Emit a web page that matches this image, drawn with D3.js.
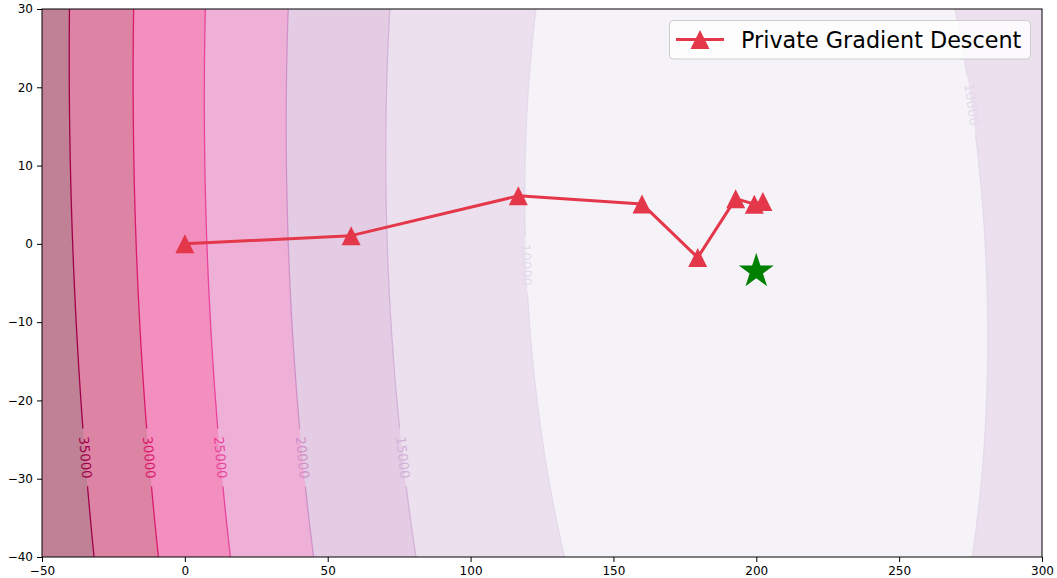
<!DOCTYPE html>
<html>
<head>
<meta charset="utf-8">
<script src="https://cdn.jsdelivr.net/npm/d3@7"></script>
<style>
  html, body { margin: 0; padding: 0; background: #ffffff; }
  svg { display: block; font-family: "DejaVu Sans", sans-serif; }
</style>
</head>
<body>
<svg id="chart" width="1057" height="578"></svg>
<script>
// Quadratic loss surface: f(x, y) = a*dx^2 + b*dx*dy + c*dy^2 + floor
const lossCenter = [200, -3];
const lossCoef = [0.494, 0.113, 0.5096];
const lossFloor = 6796;

// Filled contour levels and band colours (lowest band first)
const levels = [10000, 15000, 20000, 25000, 30000, 35000];
const bandColors = ["#f5f3f8", "#ece0ef", "#e4cce4", "#efb0d8", "#f28fbe", "#dd84a5", "#c08096"];
const lineColors = ["#e3daeb", "#d3b3d8", "#cf92c8", "#e8449c", "#d81b6a", "#a0004a"];

// Inline contour labels: level, y position, which branch of the curve
const labelLevels = [35000, 30000, 25000, 20000, 15000, 10000, 10000];
const labelY      = [-27.3, -27.3, -27.3, -27.3, -27.3, -2.7, 17.8];
const labelSide   = [-1, -1, -1, -1, -1, -1, 1];

// Optimisation path
const pathX = [0, 58.2, 116.7, 160.0, 179.5, 192.8, 199.3, 202.3];
const pathY = [0, 1.05, 6.13, 5.1, -1.75, 5.77, 5.07, 5.4];
const optimum = [200, -3.5];

const xTicks = [-50, 0, 50, 100, 150, 200, 250, 300];
const yTicks = [-40, -30, -20, -10, 0, 10, 20, 30];
const legendLabel = "Private Gradient Descent";

const W = 1057, H = 578;
const plot = { left: 42, top: 9, right: 1042, bottom: 557 };
const xDomain = [-50, 300], yDomain = [-40, 30];

const x = d3.scaleLinear().domain(xDomain).range([plot.left, plot.right]);
const y = d3.scaleLinear().domain(yDomain).range([plot.bottom, plot.top]);

function loss(px, py) {
  const dx = px - lossCenter[0], dy = py - lossCenter[1];
  return lossCoef[0] * dx * dx + lossCoef[1] * dx * dy + lossCoef[2] * dy * dy + lossFloor;
}

const svg = d3.select("#chart");
const defs = svg.append("defs");
defs.append("clipPath").attr("id", "plotClip")
  .append("rect")
  .attr("x", plot.left).attr("y", plot.top)
  .attr("width", plot.right - plot.left).attr("height", plot.bottom - plot.top);

// Sample the surface on a grid slightly larger than the visible area
const gx0 = -56, gx1 = 306, gy0 = -46, gy1 = 36;
const nx = 362, ny = 164;
const sx = (gx1 - gx0) / nx, sy = (gy1 - gy0) / ny;
const grid = new Float64Array(nx * ny);
for (let j = 0; j < ny; j++) {
  const yy = gy1 - (j + 0.5) * sy;
  for (let i = 0; i < nx; i++) {
    grid[j * nx + i] = loss(gx0 + (i + 0.5) * sx, yy);
  }
}
const contourGen = d3.contours().size([nx, ny]).thresholds(levels);
const bands = contourGen(grid);
const proj = d3.geoTransform({
  point: function (gxp, gyp) {
    this.stream.point(x(gx0 + gxp * sx), y(gy1 - gyp * sy));
  }
});
const geoPath = d3.geoPath(proj);

const plotG = svg.append("g").attr("clip-path", "url(#plotClip)");
plotG.append("rect")
  .attr("x", plot.left).attr("y", plot.top)
  .attr("width", plot.right - plot.left).attr("height", plot.bottom - plot.top)
  .attr("fill", bandColors[0]);
plotG.append("g").selectAll("path").data(bands).join("path")
  .attr("d", geoPath)
  .attr("fill", (d, i) => bandColors[i + 1]);

// Label placement: x on the contour at the given y, and the local tangent angle
const labels = labelLevels.map((lv, k) => {
  const yy = labelY[k];
  const dy = yy - lossCenter[1];
  const a = lossCoef[0], b = lossCoef[1] * dy, c = lossCoef[2] * dy * dy + lossFloor - lv;
  const disc = Math.sqrt(b * b - 4 * a * c);
  const dx = labelSide[k] < 0 ? (-b - disc) / (2 * a) : (-b + disc) / (2 * a);
  const xx = lossCenter[0] + dx;
  const fx = 2 * lossCoef[0] * dx + lossCoef[1] * dy;
  const fy = lossCoef[1] * dx + 2 * lossCoef[2] * dy;
  let tx = -fy * (x(1) - x(0)), ty = -fx * (y(0) - y(1));
  if (ty < 0) { tx = -tx; ty = -ty; }
  const ang = Math.atan2(ty, tx) * 180 / Math.PI;
  return { level: lv, px: x(xx), py: y(yy), ang, color: lineColors[levels.indexOf(lv)] };
});

const labelFont = 13.3;
const mask = defs.append("mask").attr("id", "labelMask")
  .attr("maskUnits", "userSpaceOnUse")
  .attr("x", 0).attr("y", 0).attr("width", W).attr("height", H);
mask.append("rect").attr("x", 0).attr("y", 0).attr("width", W).attr("height", H).attr("fill", "white");
mask.selectAll("rect.hole").data(labels).join("rect")
  .attr("class", "hole")
  .attr("x", -29).attr("y", -8).attr("width", 58).attr("height", 16)
  .attr("fill", "black")
  .attr("transform", d => `translate(${d.px},${d.py}) rotate(${d.ang})`);

plotG.append("g").attr("mask", "url(#labelMask)")
  .selectAll("path").data(bands).join("path")
  .attr("d", geoPath)
  .attr("fill", "none")
  .attr("stroke", (d, i) => lineColors[i])
  .attr("stroke-width", 1.3);

plotG.append("g").selectAll("text").data(labels).join("text")
  .attr("transform", d => `translate(${d.px},${d.py}) rotate(${d.ang})`)
  .attr("text-anchor", "middle")
  .attr("dominant-baseline", "central")
  .attr("font-size", labelFont)
  .attr("fill", d => d.color)
  .text(d => d.level);

// Optimisation path with triangle markers
const pts = pathX.map((v, i) => [v, pathY[i]]);
const tri = s => `M0,${-s / 2}L${s / 2},${s / 2}L${-s / 2},${s / 2}Z`;
const redC = "#e4374a";
plotG.append("path")
  .attr("d", d3.line().x(d => x(d[0])).y(d => y(d[1]))(pts))
  .attr("fill", "none").attr("stroke", redC).attr("stroke-width", 3)
  .attr("stroke-linejoin", "round");
plotG.append("g").selectAll("path").data(pts).join("path")
  .attr("d", tri(19))
  .attr("transform", d => `translate(${x(d[0])},${y(d[1])})`)
  .attr("fill", redC);

// Optimum star
function starPath(R) {
  const r = R * 0.381966;
  const p = [];
  for (let k = 0; k < 10; k++) {
    const rad = k % 2 === 0 ? R : r;
    const t = -Math.PI / 2 + k * Math.PI / 5;
    p.push([rad * Math.cos(t), rad * Math.sin(t)]);
  }
  return "M" + p.map(q => q[0].toFixed(2) + "," + q[1].toFixed(2)).join("L") + "Z";
}
plotG.append("path")
  .attr("d", starPath(18.4))
  .attr("transform", `translate(${x(optimum[0])},${y(optimum[1])})`)
  .attr("fill", "#008000");

// Axes
const xAxis = d3.axisBottom(x).tickValues(xTicks).tickSize(5).tickPadding(4);
const yAxis = d3.axisLeft(y).tickValues(yTicks).tickSize(5).tickPadding(4);
const gxA = svg.append("g").attr("transform", `translate(0,${plot.bottom})`).call(xAxis);
const gyA = svg.append("g").attr("transform", `translate(${plot.left},0)`).call(yAxis);
[gxA, gyA].forEach(g => {
  g.select(".domain").remove();
  g.selectAll("text").attr("font-size", 12).attr("fill", "#000").attr("font-family", "DejaVu Sans");
  g.selectAll("line").attr("stroke", "#000").attr("stroke-width", 1);
});
svg.append("rect")
  .attr("x", plot.left).attr("y", plot.top)
  .attr("width", plot.right - plot.left).attr("height", plot.bottom - plot.top)
  .attr("fill", "none").attr("stroke", "#000").attr("stroke-width", 1);

// Legend
const lg = svg.append("g");
lg.append("rect")
  .attr("x", 669.5).attr("y", 20.5).attr("width", 361).attr("height", 38.5)
  .attr("rx", 4).attr("fill", "#ffffff").attr("fill-opacity", 0.8)
  .attr("stroke", "#cccccc").attr("stroke-width", 1);
lg.append("line")
  .attr("x1", 676).attr("x2", 724).attr("y1", 39.5).attr("y2", 39.5)
  .attr("stroke", redC).attr("stroke-width", 3);
lg.append("path").attr("d", tri(19)).attr("transform", "translate(700,39.5)").attr("fill", redC);
lg.append("text")
  .attr("x", 741).attr("y", 39.5)
  .attr("dominant-baseline", "central")
  .attr("font-size", 22.3).attr("fill", "#000")
  .text(legendLabel);
</script>
</body>
</html>
